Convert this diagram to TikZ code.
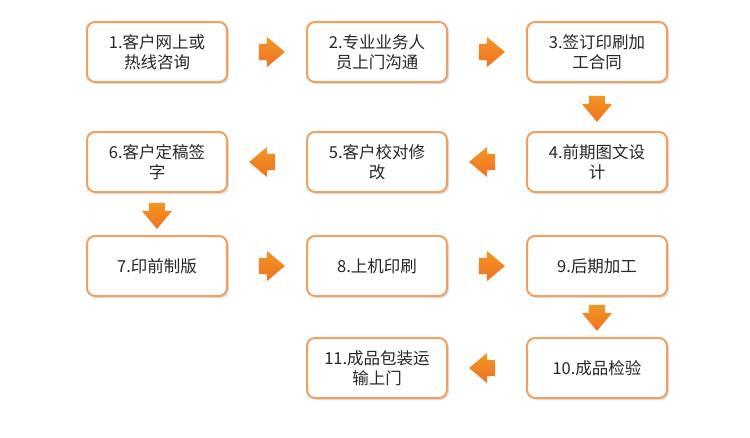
\documentclass[tikz,border=0pt]{standalone}
\usepackage{fontspec}
\setmainfont{Noto Sans CJK SC}
\usetikzlibrary{shapes.arrows,shadows}
\definecolor{boxline}{HTML}{F0A060}
\definecolor{arrowfill}{HTML}{EE8428}
\begin{document}
\begin{tikzpicture}[x=1pt,y=-1pt]
    \tikzset{stepbox/.style={draw=boxline,line width=2pt,rounded corners=8pt,fill=white,
        minimum width=140pt,minimum height=60pt,align=center,font=\fontsize{16.5}{20}\selectfont,
        text=black!85,drop shadow={opacity=0.25,shadow xshift=2pt,shadow yshift=-2pt}},
      flow/.style={single arrow,draw=none,minimum height=26pt,text height=16pt,text depth=0pt,
        text width=0pt,single arrow head extend=7pt,single arrow tip angle=80,inner sep=0pt,
        top color=arrowfill!85!yellow,bottom color=arrowfill!85!red}}
    \useasboundingbox (0,0) rectangle (750,437);

    \node[stepbox] (s1) at (157, 52) {1.客户网上或\\热线咨询};
    \node[stepbox] (s2) at (377, 52) {2.专业业务人\\员上门沟通};
    \node[stepbox] (s3) at (597, 52) {3.签订印刷加\\工合同};
    \node[stepbox] (s4) at (597,162) {4.前期图文设\\计};
    \node[stepbox] (s5) at (377,162) {5.客户校对修\\改};
    \node[stepbox] (s6) at (157,162) {6.客户定稿签\\字};
    \node[stepbox] (s7) at (157,266) {7.印前制版};
    \node[stepbox] (s8) at (377,266) {8.上机印刷};
    \node[stepbox] (s9) at (597,266) {9.后期加工};
    \node[stepbox] (s10) at (597,368) {10.成品检验};
    \node[stepbox] (s11) at (377,368) {11.成品包装运\\输上门};

    % arrows between boxes
    \node[flow] (a12) at (267, 52) {};
    \node[flow] (a23) at (487, 52) {};
    \node[flow,rotate=-90] (a34) at (597,104) {};
    \node[flow,rotate=180] (a45) at (487,162) {};
    \node[flow,rotate=180] (a56) at (267,162) {};
    \node[flow,rotate=-90] (a67) at (157,211) {};
    \node[flow] (a78) at (267,266) {};
    \node[flow] (a89) at (487,266) {};
    \node[flow,rotate=-90] (a910) at (597,313) {};
    \node[flow,rotate=180] (a1011) at (487,368) {};
\end{tikzpicture}
\end{document}
